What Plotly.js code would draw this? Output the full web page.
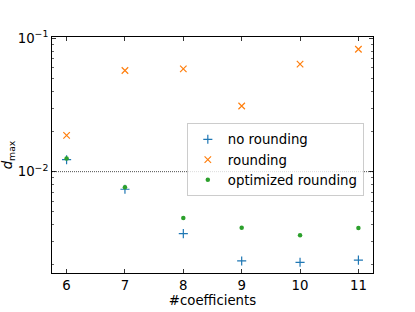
<!DOCTYPE html>
<html>
<head>
<meta charset="utf-8">
<script src="https://cdn.plot.ly/plotly-3.0.1.min.js"></script>
<style>html,body{margin:0;padding:0;background:#fff;}#chart{width:415px;height:312px;}</style>
</head>
<body>
<div id="chart"></div>
<script>
const coefficients = [6, 7, 8, 9, 10, 11];
const noRounding = [0.0123, 0.00738, 0.00343, 0.00214, 0.00209, 0.00217];
const rounding = [0.0187, 0.0574, 0.059, 0.0311, 0.064, 0.0828];
const optimizedRounding = [0.01256, 0.00763, 0.00449, 0.0038, 0.00333, 0.00378];
const thresholdValue = 0.01;
const yTickVals = [0.01, 0.1];
const yTickText = ['10<sup>\u22122</sup>', '10<sup>\u22121</sup>'];
const yMinorVals = [0.002,0.003,0.004,0.005,0.006,0.007,0.008,0.009,0.02,0.03,0.04,0.05,0.06,0.07,0.08,0.09];

const font = {family: 'DejaVu Sans', size: 13.3, color: '#000'};
const traces = [
  {x: coefficients, y: noRounding, mode: 'markers', name: 'no rounding',
   marker: {symbol: 'cross-thin-open', size: 6.5, color: '#1f77b4', line: {color: '#1f77b4', width: 1.2}}},
  {x: coefficients, y: rounding, mode: 'markers', name: 'rounding',
   marker: {symbol: 'x-thin-open', size: 6.5, color: '#ff7f0e', line: {color: '#ff7f0e', width: 1.2}}},
  {x: coefficients, y: optimizedRounding, mode: 'markers', name: 'optimized rounding',
   marker: {symbol: 'circle', size: 4.5, color: '#2ca02c'}}
];
const layout = {
  width: 415, height: 312,
  margin: {l: 52, r: 42, t: 37, b: 39},
  paper_bgcolor: '#fff', plot_bgcolor: '#fff',
  font: font,
  showlegend: true,
  legend: {x: 0.42, y: 0.635, xanchor: 'left', yanchor: 'top',
    bgcolor: 'rgba(255,255,255,0.8)', bordercolor: '#cccccc', borderwidth: 1,
    font: font, tracegroupgap: 0},
  xaxis: {range: [5.75, 11.25], tickvals: coefficients, ticktext: coefficients.map(String),
    ticks: 'inside', ticklen: 4, tickwidth: 0.8, tickcolor: '#000',
    showline: true, linecolor: '#000', linewidth: 1, mirror: 'ticks',
    showgrid: false, zeroline: false, tickfont: font,
    title: {text: '#coefficients', font: font, standoff: 3}},
  yaxis: {type: 'log', range: [-2.76, -0.99], tickmode: 'array', tickvals: yTickVals, ticktext: yTickText,
    ticks: 'inside', ticklen: 4, tickwidth: 0.8, tickcolor: '#000',
    minor: {tickmode: 'array', tickvals: yMinorVals, ticks: 'inside', ticklen: 2, tickwidth: 0.6, tickcolor: '#000', showgrid: false},
    showline: true, linecolor: '#000', linewidth: 1, mirror: 'ticks',
    showgrid: false, zeroline: false, tickfont: font,
    title: {text: '<i>d</i><sub>max</sub>', font: font, standoff: 3}},
  shapes: [{type: 'line', xref: 'paper', x0: 0, x1: 1, yref: 'y', y0: thresholdValue, y1: thresholdValue,
    line: {color: '#000', width: 0.7, dash: '1px,1px'}, layer: 'below'}]
};
Plotly.newPlot('chart', traces, layout, {displayModeBar: false, staticPlot: true});
</script>
</body>
</html>
